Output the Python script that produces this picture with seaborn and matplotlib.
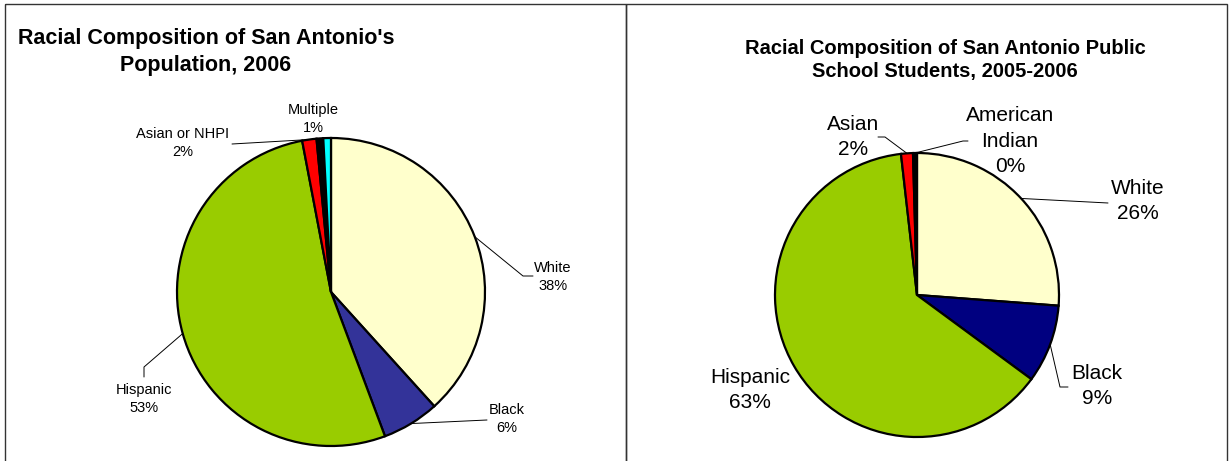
import matplotlib
matplotlib.use("Agg")
import numpy as np
import matplotlib.pyplot as plt
from matplotlib.patches import Rectangle
import seaborn as sns

# San Antonio population, 2006 (share in %, clockwise from 12 o'clock)
city_groups = ["White", "Black", "Hispanic", "Asian or NHPI", "American Indian", "Multiple"]
city_shares = [38.3, 6.0, 52.7, 1.5, 0.7, 0.8]
city_labels = ["White\n38%", "Black\n6%", "Hispanic\n53%", "Asian or NHPI\n2%", "", "Multiple\n1%"]
city_colors = ["#FFFFCC", "#333399", "#99CC00", "#FF0000", "#000000", "#00FFFF"]

# San Antonio public school students, 2005-2006
school_groups = ["White", "Black", "Hispanic", "Asian", "American Indian"]
school_shares = [26.2, 8.9, 63.1, 1.35, 0.45]
school_labels = ["White\n26%", "Black\n9%", "Hispanic\n63%", "Asian\n2%", "American\nIndian\n0%"]
school_colors = ["#FFFFCC", "#000080", "#99CC00", "#FF0000", "#000000"]

W, H = 1232, 461

sns.set_theme(style="white")
plt.rcParams["font.family"] = ["Liberation Sans", "DejaVu Sans"]
plt.rcParams["text.color"] = "black"

fig = plt.figure(figsize=(W / 100, H / 100), dpi=100)
ax = fig.add_axes([0, 0, 1, 1])


def draw_pie(shares, colors, labels, center, radius, placement, fontsize, spacing):
    """Draw one pie (clockwise from the top) with Excel-style leader lines."""
    wedges, _ = ax.pie(shares, colors=sns.color_palette(colors), center=center, radius=radius,
                       startangle=-90, counterclock=True, frame=True,
                       wedgeprops=dict(edgecolor="black", linewidth=1.6))
    for wedge, label in zip(wedges, labels):
        if not label:
            continue
        text_xy, knees = placement[label.split("\n")[0]]
        mid = np.deg2rad((wedge.theta1 + wedge.theta2) / 2)
        start = (center[0] + radius * np.cos(mid), center[1] + radius * np.sin(mid))
        if knees:
            path = [start] + knees
            ax.plot([p[0] for p in path], [p[1] for p in path], color="black", lw=0.7)
        ax.text(*text_xy, label, ha="center", va="center", fontsize=fontsize,
                linespacing=spacing, color="black")


city_place = {
    "White": ((553, 277), [(523, 276), (533, 276)]),
    "Black": ((507, 419), [(487, 420)]),
    "Hispanic": ((144, 399), [(144, 367), (144, 377)]),
    "Asian or NHPI": ((183, 143), [(232, 144)]),
    "Multiple": ((313, 119), []),
}
school_place = {
    "White": ((1138, 201), [(1108, 203)]),
    "Black": ((1097, 386), [(1060, 387), (1068, 387)]),
    "Hispanic": ((750, 390), []),
    "Asian": ((853, 137), [(885, 137), (878, 137)]),
    "American": ((1010, 141), [(963, 141), (968, 141)]),
}

draw_pie(city_shares, city_colors, city_labels, (331, 292), 154, city_place, 10.5, 1.41)
draw_pie(school_shares, school_colors, school_labels, (917, 295), 142, school_place, 15, 1.41)

# panel frames (bottom edge runs off the page)
for x0, x1 in [(5, 626), (626, 1227)]:
    ax.add_patch(Rectangle((x0, 4), x1 - x0, H + 20, fill=False, edgecolor="#333333", lw=1))

ax.text(206, 52, "Racial Composition of San Antonio's\nPopulation, 2006", ha="center", va="center",
        fontsize=15.5, fontweight="bold", linespacing=1.34, color="black")
ax.text(945, 60, "Racial Composition of San Antonio Public\nSchool Students, 2005-2006", ha="center",
        va="center", fontsize=14.5, fontweight="bold", linespacing=1.25, color="black")

ax.set_xlim(0, W)
ax.set_ylim(H, 0)
ax.set_aspect("equal")
ax.axis("off")

fig.savefig("out.png", dpi=100, facecolor="white")
